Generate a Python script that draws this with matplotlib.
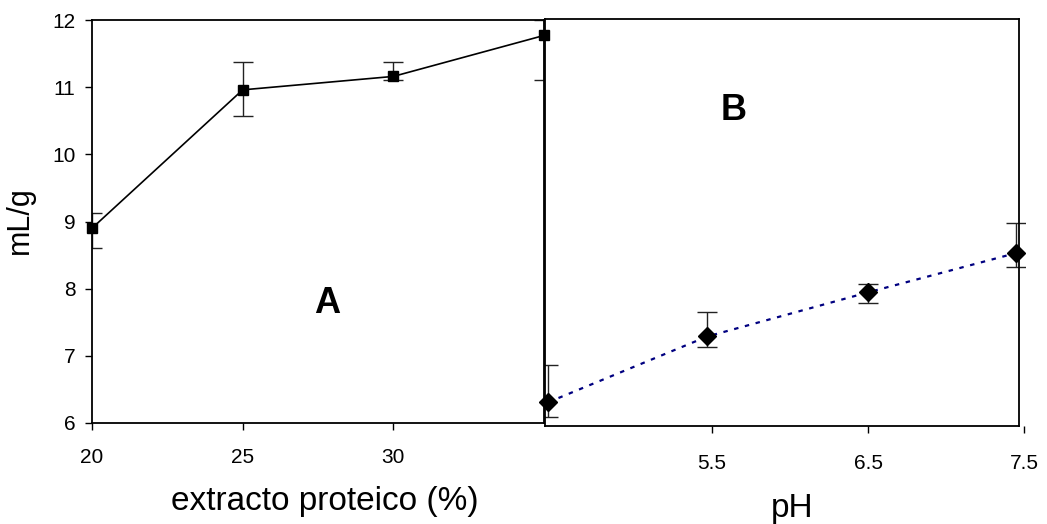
import numpy as np
import matplotlib
matplotlib.use("Agg")
import matplotlib.pyplot as plt

plt.rcParams['font.family'] = ['Liberation Sans', 'DejaVu Sans']

# panel A: swelling vs protein extract
extracto = [20, 25, 30, 35]
ml_g_a = [8.90, 10.96, 11.16, 11.77]
err_a_low = [0.29, 0.39, 0.05, 0.67]
err_a_high = [0.23, 0.41, 0.21, 0.23]

# panel B: swelling vs pH
ph = [4.45, 5.47, 6.50, 7.45]
ml_g_b = [6.35, 7.32, 7.97, 8.55]
err_b_low = [0.22, 0.15, 0.15, 0.20]
err_b_high = [0.55, 0.36, 0.12, 0.45]

W, H = 1047, 524
fig = plt.figure(figsize=(W / 100, H / 100), dpi=100)

axA = fig.add_axes([92 / W, 1 - 423 / H, (544 - 92) / W, (423 - 20) / H])
axB = fig.add_axes([545 / W, 1 - 426 / H, (1025 - 545) / W, (426 - 19) / H])
axB.patch.set_visible(False)

# --- A ---
axA.errorbar(extracto, ml_g_a, yerr=[err_a_low, err_a_high], fmt='none',
             ecolor='#222222', elinewidth=1, capsize=7, capthick=1)
axA.plot(extracto, ml_g_a, color='black', lw=1.2, marker='s', ms=7,
         mfc='black', mec='black', clip_on=False, zorder=3)
axA.set_xlim(20, 35)
axA.set_ylim(6, 12)
axA.set_xticks([20, 25, 30])
axA.set_yticks(range(6, 13))
axA.tick_params(axis='both', direction='out', length=5, width=1, labelsize=15)
axA.tick_params(axis='x', pad=13)
axA.tick_params(axis='y', pad=7)
for s in axA.spines.values():
    s.set_linewidth(1.3)
axA.text(27.8, 7.64, 'A', fontsize=26, fontweight='bold', ha='center', va='baseline')

# --- B ---
x0, x1 = 4.4295, 7.506
right_edge = 7.468
axB.errorbar(ph, ml_g_b, yerr=[err_b_low, err_b_high], fmt='none',
             ecolor='#222222', elinewidth=1, capsize=7, capthick=1)
axB.plot(ph, ml_g_b, color='#000080', lw=1.6, ls=(0, (2, 3)), zorder=2)
axB.plot(ph, ml_g_b, ls='none', marker='D', ms=9, mfc='black', mec='black',
         clip_on=False, zorder=3)
axB.set_xlim(x0, x1)
axB.set_ylim(6, 12)
axB.set_xticks([5.5, 6.5, 7.5])
axB.set_xticklabels(['5.5', '6.5', '7.5'])
axB.set_yticks([])
axB.spines['right'].set_position(('data', right_edge))
axB.spines['top'].set_bounds(x0, right_edge)
axB.spines['bottom'].set_bounds(x0, right_edge)
for s in axB.spines.values():
    s.set_linewidth(1.3)
axB.tick_params(axis='x', direction='out', length=5, width=1, labelsize=15, pad=15)
axB.text(5.64, 10.51, 'B', fontsize=26, fontweight='bold', ha='center', va='baseline')

# axis titles
fig.text(20 / W, 1 - 220 / H, 'mL/g', fontsize=22, rotation=90, ha='center', va='center')
fig.text(325 / W, 1 - 510 / H, 'extracto proteico (%)', fontsize=24, ha='center', va='baseline')
fig.text(792 / W, 1 - 517 / H, 'pH', fontsize=24, ha='center', va='baseline')

fig.savefig('out.png', dpi=100)
